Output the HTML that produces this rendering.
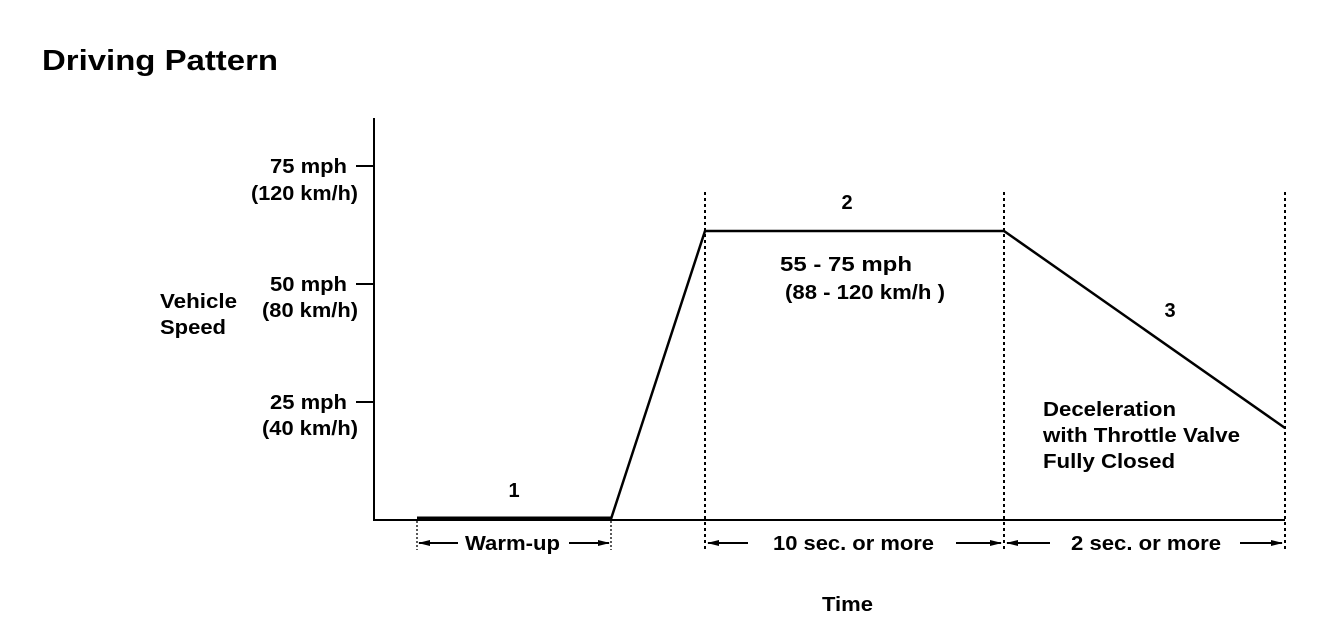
<!DOCTYPE html>
<html><head><style>
html,body{margin:0;padding:0;background:#fff;}
svg{display:block;font-family:"Liberation Sans",Arial,sans-serif;font-weight:bold;}
</style></head><body>
<svg width="1344" height="630" viewBox="0 0 1344 630" xmlns="http://www.w3.org/2000/svg">
<defs>
<marker id="ah" markerWidth="12" markerHeight="8" refX="11" refY="4" orient="auto" markerUnits="userSpaceOnUse">
<path d="M0,1 L12,4 L0,7 Z" fill="#000"/></marker>
</defs>
<text x="42" y="70" font-size="29" fill="#000" textLength="236" lengthAdjust="spacingAndGlyphs">Driving Pattern</text>
<g stroke="#000" stroke-width="2" fill="none">
<line x1="374" y1="118" x2="374" y2="521"/>
<line x1="373" y1="520" x2="1285" y2="520"/>
<line x1="356" y1="166" x2="374" y2="166"/>
<line x1="356" y1="284" x2="374" y2="284"/>
<line x1="356" y1="402" x2="374" y2="402"/>
<polyline points="611,519 705,231 1004,231 1285,428" stroke-width="2.5"/>
</g>
<line x1="417" y1="518.5" x2="611" y2="518.5" stroke="#000" stroke-width="4"/>
<g stroke="#000" stroke-width="2" stroke-dasharray="3,3">
<line x1="705" y1="192" x2="705" y2="550"/>
<line x1="1004" y1="192" x2="1004" y2="550"/>
<line x1="1285" y1="192" x2="1285" y2="550"/>
</g>
<g stroke="#000" stroke-width="1.3" stroke-dasharray="2,2">
<line x1="417" y1="521" x2="417" y2="550"/>
<line x1="611" y1="521" x2="611" y2="550"/>
</g>
<g stroke="#000" stroke-width="2" marker-end="url(#ah)">
<line x1="458" y1="543" x2="419" y2="543"/>
<line x1="569" y1="543" x2="609" y2="543"/>
<line x1="748" y1="543" x2="708" y2="543"/>
<line x1="956" y1="543" x2="1001" y2="543"/>
<line x1="1050" y1="543" x2="1007" y2="543"/>
<line x1="1240" y1="543" x2="1282" y2="543"/>
</g>
<g font-size="20" fill="#000">
<text x="270" y="173" textLength="77" lengthAdjust="spacingAndGlyphs">75 mph</text>
<text x="251" y="200" textLength="107" lengthAdjust="spacingAndGlyphs">(120 km/h)</text>
<text x="270" y="291" textLength="77" lengthAdjust="spacingAndGlyphs">50 mph</text>
<text x="262" y="317" textLength="96" lengthAdjust="spacingAndGlyphs">(80 km/h)</text>
<text x="270" y="409" textLength="77" lengthAdjust="spacingAndGlyphs">25 mph</text>
<text x="262" y="435" textLength="96" lengthAdjust="spacingAndGlyphs">(40 km/h)</text>
<text x="160" y="308" textLength="77" lengthAdjust="spacingAndGlyphs">Vehicle</text>
<text x="160" y="334" textLength="66" lengthAdjust="spacingAndGlyphs">Speed</text>
<text x="514" y="497" text-anchor="middle">1</text>
<text x="847" y="209" text-anchor="middle">2</text>
<text x="1170" y="317" text-anchor="middle">3</text>
<text x="780" y="271" textLength="132" lengthAdjust="spacingAndGlyphs">55 - 75 mph</text>
<text x="785" y="299" textLength="160" lengthAdjust="spacingAndGlyphs">(88 - 120 km/h )</text>
<text x="1043" y="416" textLength="133" lengthAdjust="spacingAndGlyphs">Deceleration</text>
<text x="1043" y="442" textLength="197" lengthAdjust="spacingAndGlyphs">with Throttle Valve</text>
<text x="1043" y="468" textLength="132" lengthAdjust="spacingAndGlyphs">Fully Closed</text>
<text x="465" y="550" textLength="95" lengthAdjust="spacingAndGlyphs">Warm-up</text>
<text x="773" y="550" textLength="161" lengthAdjust="spacingAndGlyphs">10 sec. or more</text>
<text x="1071" y="550" textLength="150" lengthAdjust="spacingAndGlyphs">2 sec. or more</text>
<text x="822" y="611" textLength="51" lengthAdjust="spacingAndGlyphs">Time</text>
</g>
</svg>
</body></html>
